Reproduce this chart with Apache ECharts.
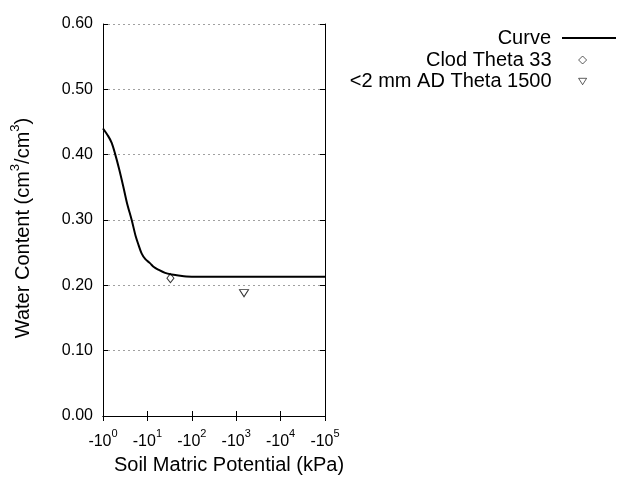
<!DOCTYPE html>
<html>
<head>
<meta charset="utf-8">
<script src="https://cdn.jsdelivr.net/npm/echarts@6/dist/echarts.min.js"></script>
<style>html,body{margin:0;padding:0;background:#fff}#c{width:640px;height:480px}</style>
</head>
<body>
<div id="c"></div>
<script>
// Curve: soil matric potential magnitude (kPa) and water content
var curvePotential = [1, 1.32, 1.57, 1.86, 2.33, 2.87, 3.5, 4.43, 5.45, 6.3, 7.4, 9, 11.4, 14, 17.6, 25, 35, 50, 75, 100, 1000, 10000, 100000];
var curveTheta = [0.440, 0.428, 0.418, 0.402, 0.377, 0.351, 0.325, 0.300, 0.275, 0.262, 0.249, 0.240, 0.234, 0.228, 0.224, 0.219, 0.2165, 0.215, 0.2135, 0.2133, 0.2133, 0.2133, 0.2133];
var clodPotential = [33];
var clodTheta = [0.211];
var adPotential = [1500];
var adTheta = [0.188];
var seriesNames = ['Curve', 'Clod Theta 33', '<2 mm AD Theta 1500'];
var yTicks = [0, 0.1, 0.2, 0.3, 0.4, 0.5, 0.6];

function pairs(xs, ys) { return xs.map(function (x, i) { return [x, ys[i]]; }); }

var FONT = 'Liberation Sans, Arial, sans-serif';
var chart = echarts.init(document.getElementById('c'), null, { renderer: 'canvas' });
var axisBase = {
  axisLine: { show: true, lineStyle: { color: '#000', width: 1 } },
  axisTick: { show: true, inside: true, length: 5, lineStyle: { color: '#000' } }
};
chart.setOption({
  animation: false,
  backgroundColor: '#fff',
  grid: { left: 103, right: 315, top: 24, bottom: 64, containLabel: false },
  legend: [{
    data: [seriesNames[0]],
    orient: 'vertical', align: 'right', right: 18, top: 23,
    itemWidth: 54, itemHeight: 14,
    itemStyle: { opacity: 0 },
    lineStyle: { color: '#000', width: 2 },
    textStyle: { fontFamily: FONT, fontSize: 20, color: '#000', padding: [0, 6, 0, 0], lineHeight: 20 }
  }, {
    data: [seriesNames[1], seriesNames[2]],
    orient: 'vertical', align: 'right', right: 48, top: 45, itemGap: 1.5,
    itemWidth: 8, itemHeight: 8,
    itemStyle: { color: '#fff', borderColor: '#000', borderWidth: 0.8 },
    textStyle: { fontFamily: FONT, fontSize: 20, color: '#000', padding: [0, 22, 0, 0], lineHeight: 20 }
  }],
  xAxis: [Object.assign({}, axisBase, {
    type: 'log', logBase: 10, min: 1, max: 100000, position: 'bottom',
    name: 'Soil Matric Potential (kPa)', nameLocation: 'middle', nameGap: 39,
    nameTextStyle: { fontFamily: FONT, fontSize: 20, color: '#000', padding: [0, 0, 0, 30] },
    splitLine: { show: false }, minorTick: { show: false },
    axisLabel: {
      margin: 12, color: '#000', fontFamily: FONT,
      formatter: function (v) { return '{b|-10}{s|' + Math.round(Math.log10(v)) + '}'; },
      rich: {
        b: { fontSize: 16, fontFamily: FONT, color: '#000', lineHeight: 22, verticalAlign: 'bottom' },
        s: { fontSize: 11, fontFamily: FONT, color: '#000', lineHeight: 22, verticalAlign: 'top' }
      }
    }
  }), Object.assign({}, axisBase, {
    type: 'log', logBase: 10, min: 1, max: 100000, position: 'top',
    axisLabel: { show: false }, splitLine: { show: false }
  })],
  yAxis: [Object.assign({}, axisBase, {
    type: 'value', min: yTicks[0], max: yTicks[yTicks.length - 1], interval: 0.1, position: 'left',
    name: '{a|Water Content (cm}{s|3}{a|/cm}{s|3}{a|)}', nameLocation: 'middle', nameGap: 70,
    nameTextStyle: {
      padding: [0, 16, 0, 0],
      rich: {
        a: { fontFamily: FONT, fontSize: 20, color: '#000', lineHeight: 24, verticalAlign: 'bottom' },
        s: { fontFamily: FONT, fontSize: 13, color: '#000', lineHeight: 24, verticalAlign: 'top' }
      }
    },
    axisLabel: { margin: 10, color: '#000', fontFamily: FONT, fontSize: 16, formatter: function (v) { return v.toFixed(2); } },
    splitLine: { show: true, lineStyle: { color: '#a0a0a0', type: [2, 3], width: 1 } }
  }), Object.assign({}, axisBase, {
    type: 'value', min: yTicks[0], max: yTicks[yTicks.length - 1], interval: 0.1, position: 'right',
    axisLabel: { show: false }, splitLine: { show: false }
  })],
  series: [{
    name: seriesNames[0], type: 'line', xAxisIndex: 0, yAxisIndex: 0,
    data: pairs(curvePotential, curveTheta), symbol: 'none', smooth: 0.3,
    lineStyle: { color: '#000', width: 2 }, itemStyle: { color: '#000' }
  }, {
    name: seriesNames[1], type: 'scatter', xAxisIndex: 0, yAxisIndex: 0,
    data: pairs(clodPotential, clodTheta), symbol: 'diamond', symbolSize: [7, 9],
    itemStyle: { color: '#fff', borderColor: '#000', borderWidth: 1 }
  }, {
    name: seriesNames[2], type: 'scatter', xAxisIndex: 0, yAxisIndex: 0,
    data: pairs(adPotential, adTheta), symbol: 'path://M0,0 L10,0 L5,8 Z', symbolSize: [9, 7],
    itemStyle: { color: '#fff', borderColor: '#000', borderWidth: 1 }
  }]
});
</script>
</body>
</html>
